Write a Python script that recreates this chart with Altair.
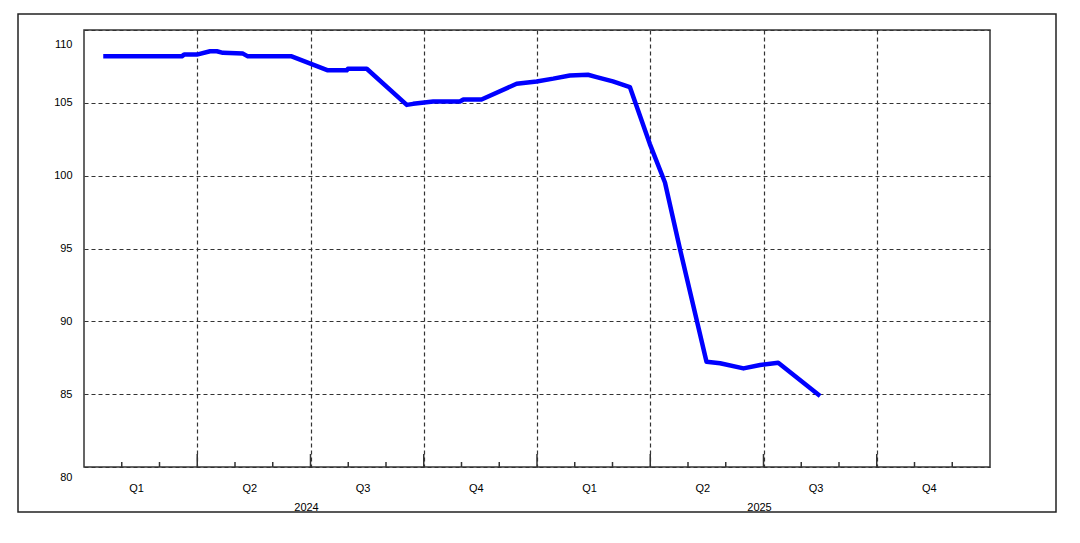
import altair as alt
import pandas as pd

# month index (0 = start of Jan 2024), value
months = [0.51, 2.59, 2.65, 2.99, 3.34, 3.52, 3.68, 4.21, 4.34, 5.50,
          6.46, 6.96, 6.99, 7.49, 8.55, 8.72, 9.25, 9.96, 10.05, 10.53,
          11.46, 11.99, 12.43, 12.87, 13.35, 13.58, 14.01, 14.46, 14.99, 15.39,
          15.79, 16.49, 16.85, 17.47, 17.91, 18.39, 19.50]
values = [108.19, 108.19, 108.31, 108.31, 108.54, 108.54, 108.43, 108.38, 108.19, 108.19,
          107.23, 107.23, 107.34, 107.34, 104.86, 104.93, 105.09, 105.09, 105.23, 105.23,
          106.31, 106.47, 106.66, 106.88, 106.93, 106.77, 106.47, 106.08, 102.17, 99.53,
          94.93, 87.23, 87.12, 86.77, 87.00, 87.16, 84.88]

quarter_labels = ["Q1", "Q2", "Q3", "Q4", "Q1", "Q2", "Q3", "Q4"]
quarter_mid = [1.5, 4.5, 7.5, 10.5, 13.5, 16.5, 19.5, 22.5]
year_labels = ["2024", "2025"]
year_mid = [6, 18]
month_ticks = list(range(1, 24))
y_ticks = [80, 85, 90, 95, 100, 105, 110]

W, H = 906, 437
FONT = "Liberation Sans"
DARK = "#333333"

df = pd.DataFrame({"m": months, "v": values})
xs = alt.Scale(domain=[0, 24], nice=False, zero=False)
ys = alt.Scale(domain=[80, 110], nice=False, zero=False)

line = alt.Chart(df).mark_line(color="#0000FF", strokeWidth=4.5, strokeJoin="round").encode(
    x=alt.X("m:Q", scale=xs,
            axis=alt.Axis(values=[3, 6, 9, 12, 15, 18, 21], labels=False, ticks=False,
                          domain=False, title=None, grid=True, gridDash=[4, 3],
                          gridColor=DARK, gridWidth=1.2)),
    y=alt.Y("v:Q", scale=ys,
            axis=alt.Axis(values=y_ticks, ticks=False, domain=False, title=None,
                          grid=True, gridDash=[4, 3], gridColor=DARK, gridWidth=1.2,
                          labelFont=FONT, labelFontSize=11, labelColor="black",
                          labelPadding=12,
                          labelOffset={"condition": [{"test": "datum.value == 110", "value": 14},
                                                     {"test": "datum.value == 80", "value": 10}],
                                       "value": 0})),
)

tk = pd.DataFrame({"m": month_ticks, "major": [m % 3 == 0 for m in month_ticks]})
minor = alt.Chart(tk).transform_filter("!datum.major").mark_rule(color=DARK, strokeWidth=1.5).encode(
    x=alt.X("m:Q", scale=xs), y=alt.value(H - 5), y2=alt.value(H))
major = alt.Chart(tk).transform_filter("datum.major").mark_rule(color=DARK, strokeWidth=1.5).encode(
    x=alt.X("m:Q", scale=xs), y=alt.value(H - 13), y2=alt.value(H))

qdf = pd.DataFrame({"m": quarter_mid, "t": quarter_labels})
qtext = alt.Chart(qdf).mark_text(font=FONT, fontSize=11, color="black", baseline="middle",
                                 dx=-4).encode(
    x=alt.X("m:Q", scale=xs), y=alt.value(459), text="t:N")

ydf = pd.DataFrame({"m": year_mid, "t": year_labels})
ytext = alt.Chart(ydf).mark_text(font=FONT, fontSize=11, color="black", baseline="middle",
                                 dx=-4).encode(
    x=alt.X("m:Q", scale=xs), y=alt.value(478), text="t:N")

one = pd.DataFrame({"a": [0]})
frame = alt.Chart(one).mark_rect(filled=False, stroke="#222222", strokeWidth=1.5).encode(
    x=alt.value(-66), x2=alt.value(972), y=alt.value(-16), y2=alt.value(482))
plotframe = alt.Chart(one).mark_rect(filled=False, stroke=DARK, strokeWidth=1.5).encode(
    x=alt.value(0), x2=alt.value(W), y=alt.value(0), y2=alt.value(H))

chart = alt.layer(frame, line, plotframe, minor, major, qtext, ytext).properties(
    width=W, height=H,
    autosize=alt.AutoSizeParams(type="none"),
    padding={"left": 76, "top": 22, "right": 80, "bottom": 50},
    background="white",
).configure_view(strokeWidth=0)

chart.save("out.html", embed_options={"renderer": "svg", "actions": False})
